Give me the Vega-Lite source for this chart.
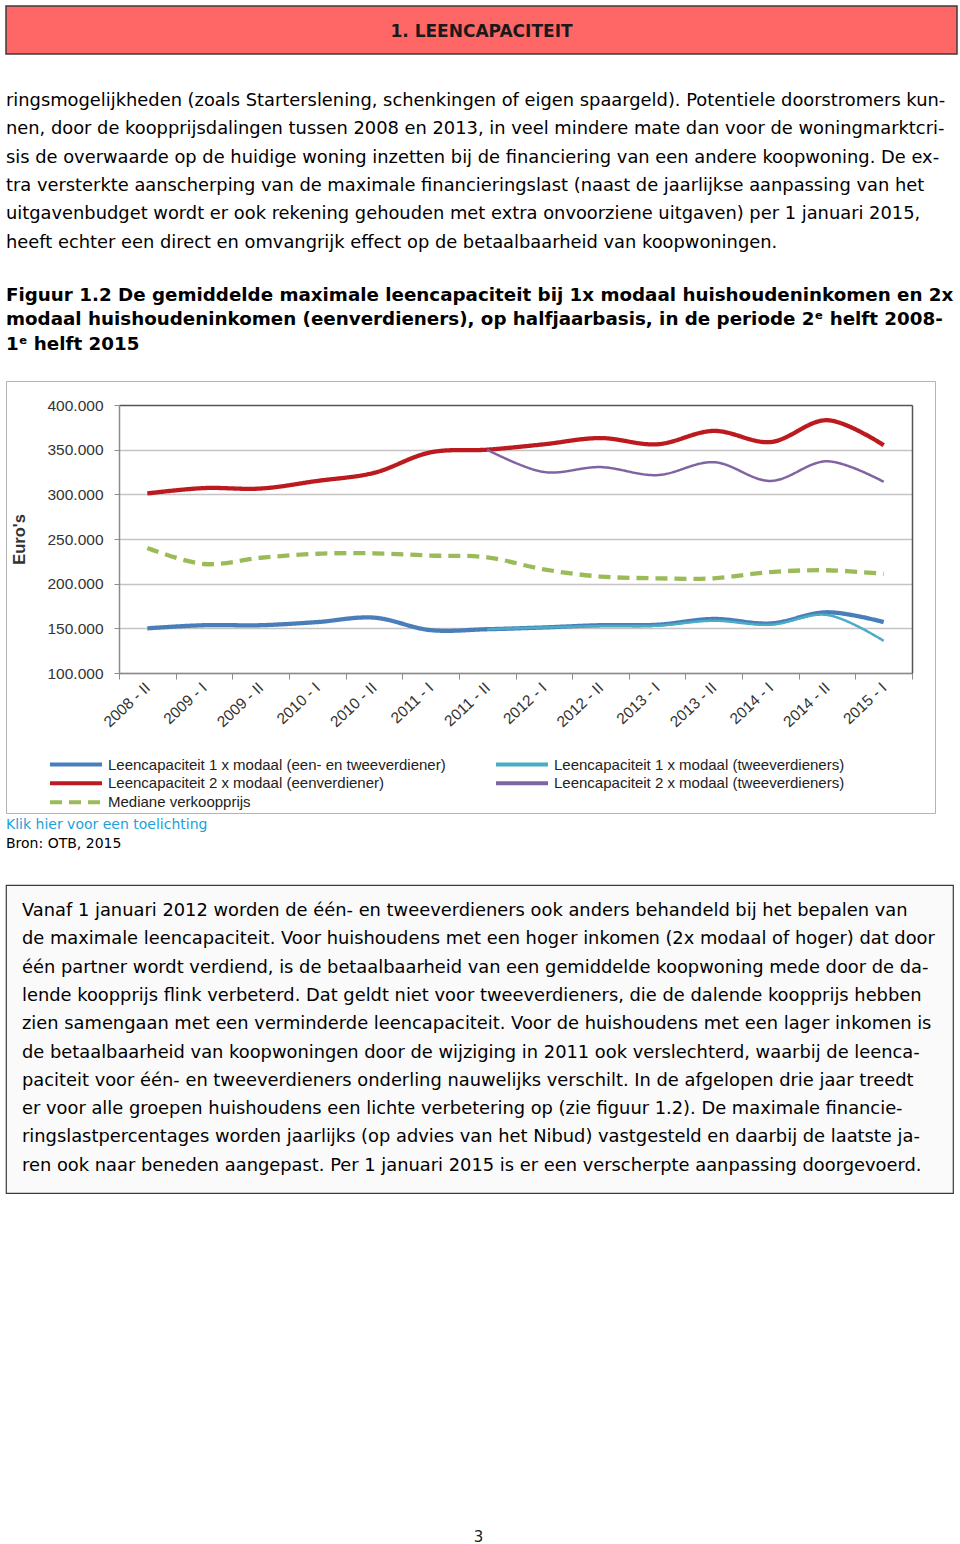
{
  "$schema": "https://vega.github.io/schema/vega-lite/v6.json",
  "background": "white",
  "padding": {"left": 0, "top": 5, "right": 0, "bottom": 0},
  "bounds": "flush",
  "spacing": 0,
  "config": {
    "view": {"stroke": null},
    "font": "DejaVu Sans",
    "legend": {"orient": "none", "legendX": 42, "legendY": 749}
  },
  "datasets": {
    "series": [
      {"period": "2008 - II", "series": "Leencapaciteit 1 x modaal (een- en tweeverdiener)", "value": 150000},
      {"period": "2009 - I", "series": "Leencapaciteit 1 x modaal (een- en tweeverdiener)", "value": 153500},
      {"period": "2009 - II", "series": "Leencapaciteit 1 x modaal (een- en tweeverdiener)", "value": 153500},
      {"period": "2010 - I", "series": "Leencapaciteit 1 x modaal (een- en tweeverdiener)", "value": 157000},
      {"period": "2010 - II", "series": "Leencapaciteit 1 x modaal (een- en tweeverdiener)", "value": 162000},
      {"period": "2011 - I", "series": "Leencapaciteit 1 x modaal (een- en tweeverdiener)", "value": 148000},
      {"period": "2011 - II", "series": "Leencapaciteit 1 x modaal (een- en tweeverdiener)", "value": 149000},
      {"period": "2012 - I", "series": "Leencapaciteit 1 x modaal (een- en tweeverdiener)", "value": 151000},
      {"period": "2012 - II", "series": "Leencapaciteit 1 x modaal (een- en tweeverdiener)", "value": 153500},
      {"period": "2013 - I", "series": "Leencapaciteit 1 x modaal (een- en tweeverdiener)", "value": 154000},
      {"period": "2013 - II", "series": "Leencapaciteit 1 x modaal (een- en tweeverdiener)", "value": 160500},
      {"period": "2014 - I", "series": "Leencapaciteit 1 x modaal (een- en tweeverdiener)", "value": 155500},
      {"period": "2014 - II", "series": "Leencapaciteit 1 x modaal (een- en tweeverdiener)", "value": 168000},
      {"period": "2015 - I", "series": "Leencapaciteit 1 x modaal (een- en tweeverdiener)", "value": 157000},
      {"period": "2011 - II", "series": "Leencapaciteit 1 x modaal (tweeverdieners)", "value": 149000},
      {"period": "2012 - I", "series": "Leencapaciteit 1 x modaal (tweeverdieners)", "value": 151000},
      {"period": "2012 - II", "series": "Leencapaciteit 1 x modaal (tweeverdieners)", "value": 152500},
      {"period": "2013 - I", "series": "Leencapaciteit 1 x modaal (tweeverdieners)", "value": 153000},
      {"period": "2013 - II", "series": "Leencapaciteit 1 x modaal (tweeverdieners)", "value": 158500},
      {"period": "2014 - I", "series": "Leencapaciteit 1 x modaal (tweeverdieners)", "value": 154000},
      {"period": "2014 - II", "series": "Leencapaciteit 1 x modaal (tweeverdieners)", "value": 165000},
      {"period": "2015 - I", "series": "Leencapaciteit 1 x modaal (tweeverdieners)", "value": 136000},
      {"period": "2008 - II", "series": "Leencapaciteit 2 x modaal (eenverdiener)", "value": 301000},
      {"period": "2009 - I", "series": "Leencapaciteit 2 x modaal (eenverdiener)", "value": 307000},
      {"period": "2009 - II", "series": "Leencapaciteit 2 x modaal (eenverdiener)", "value": 306500},
      {"period": "2010 - I", "series": "Leencapaciteit 2 x modaal (eenverdiener)", "value": 315000},
      {"period": "2010 - II", "series": "Leencapaciteit 2 x modaal (eenverdiener)", "value": 324000},
      {"period": "2011 - I", "series": "Leencapaciteit 2 x modaal (eenverdiener)", "value": 347000},
      {"period": "2011 - II", "series": "Leencapaciteit 2 x modaal (eenverdiener)", "value": 350000},
      {"period": "2012 - I", "series": "Leencapaciteit 2 x modaal (eenverdiener)", "value": 356000},
      {"period": "2012 - II", "series": "Leencapaciteit 2 x modaal (eenverdiener)", "value": 363000},
      {"period": "2013 - I", "series": "Leencapaciteit 2 x modaal (eenverdiener)", "value": 356000},
      {"period": "2013 - II", "series": "Leencapaciteit 2 x modaal (eenverdiener)", "value": 371000},
      {"period": "2014 - I", "series": "Leencapaciteit 2 x modaal (eenverdiener)", "value": 358500},
      {"period": "2014 - II", "series": "Leencapaciteit 2 x modaal (eenverdiener)", "value": 383000},
      {"period": "2015 - I", "series": "Leencapaciteit 2 x modaal (eenverdiener)", "value": 355000},
      {"period": "2011 - II", "series": "Leencapaciteit 2 x modaal (tweeverdieners)", "value": 350000},
      {"period": "2012 - I", "series": "Leencapaciteit 2 x modaal (tweeverdieners)", "value": 325000},
      {"period": "2012 - II", "series": "Leencapaciteit 2 x modaal (tweeverdieners)", "value": 330500},
      {"period": "2013 - I", "series": "Leencapaciteit 2 x modaal (tweeverdieners)", "value": 321500},
      {"period": "2013 - II", "series": "Leencapaciteit 2 x modaal (tweeverdieners)", "value": 336000},
      {"period": "2014 - I", "series": "Leencapaciteit 2 x modaal (tweeverdieners)", "value": 315000},
      {"period": "2014 - II", "series": "Leencapaciteit 2 x modaal (tweeverdieners)", "value": 337000},
      {"period": "2015 - I", "series": "Leencapaciteit 2 x modaal (tweeverdieners)", "value": 314000},
      {"period": "2008 - II", "series": "Mediane verkoopprijs", "value": 240000},
      {"period": "2009 - I", "series": "Mediane verkoopprijs", "value": 222000},
      {"period": "2009 - II", "series": "Mediane verkoopprijs", "value": 229000},
      {"period": "2010 - I", "series": "Mediane verkoopprijs", "value": 233500},
      {"period": "2010 - II", "series": "Mediane verkoopprijs", "value": 234000},
      {"period": "2011 - I", "series": "Mediane verkoopprijs", "value": 231500},
      {"period": "2011 - II", "series": "Mediane verkoopprijs", "value": 229500},
      {"period": "2012 - I", "series": "Mediane verkoopprijs", "value": 216000},
      {"period": "2012 - II", "series": "Mediane verkoopprijs", "value": 208000},
      {"period": "2013 - I", "series": "Mediane verkoopprijs", "value": 206000},
      {"period": "2013 - II", "series": "Mediane verkoopprijs", "value": 206000},
      {"period": "2014 - I", "series": "Mediane verkoopprijs", "value": 213000},
      {"period": "2014 - II", "series": "Mediane verkoopprijs", "value": 215000},
      {"period": "2015 - I", "series": "Mediane verkoopprijs", "value": 211000}
    ]
  },
  "vconcat": [
    {
      "width": 951,
      "height": 48,
      "view": {"fill": "#FF6666", "stroke": "#3c3c3c", "strokeWidth": 1.5},
      "data": {"values": [{"label": "1. LEENCAPACITEIT"}]},
      "mark": {"type": "text", "font": "DejaVu Sans", "fontWeight": "bold", "fontSize": 17, "color": "#1a1a1a", "align": "center", "baseline": "middle", "dy": 2},
      "encoding": {"text": {"field": "label"}}
    },
    {
      "width": 949,
      "height": 327,
      "data": {"values": []},
      "mark": "text"
    },
    {
      "width": 929,
      "height": 432,
      "view": {"fill": "white", "stroke": "#b3b3b3", "strokeWidth": 1},
      "title": {
        "text": [
          "ringsmogelijkheden (zoals Starterslening, schenkingen of eigen spaargeld). Potentiele doorstromers kun-",
          "nen, door de koopprijsdalingen tussen 2008 en 2013, in veel mindere mate dan voor de woningmarktcri-",
          "sis de overwaarde op de huidige woning inzetten bij de financiering van een andere koopwoning. De ex-",
          "tra versterkte aanscherping van de maximale financieringslast (naast de jaarlijkse aanpassing van het",
          "uitgavenbudget wordt er ook rekening gehouden met extra onvoorziene uitgaven) per 1 januari 2015,",
          "heeft echter een direct en omvangrijk effect op de betaalbaarheid van koopwoningen."
        ],
        "subtitle": [
          "Figuur 1.2 De gemiddelde maximale leencapaciteit bij 1x modaal huishoudeninkomen en 2x",
          "modaal huishoudeninkomen (eenverdieners), op halfjaarbasis, in de periode 2ᵉ helft 2008-",
          "1ᵉ helft 2015"
        ],
        "anchor": "start",
        "frame": "group",
        "orient": "top",
        "offset": 28,
        "dx": 0,
        "font": "DejaVu Sans",
        "fontSize": 17.85,
        "fontWeight": "normal",
        "color": "#000000",
        "lineHeight": 28.4,
        "subtitleFont": "DejaVu Sans",
        "subtitleFontSize": 18.3,
        "subtitleFontWeight": "bold",
        "subtitleColor": "#000000",
        "subtitleLineHeight": 24.5,
        "subtitlePadding": 35
      },
      "data": {"name": "series"},
      "encoding": {
        "x": {
          "field": "period",
          "type": "ordinal",
          "sort": ["2008 - II", "2009 - I", "2009 - II", "2010 - I", "2010 - II", "2011 - I", "2011 - II", "2012 - I", "2012 - II", "2013 - I", "2013 - II", "2014 - I", "2014 - II", "2015 - I"],
          "bandPosition": 0.5,
          "scale": {"type": "band", "range": [113, 906], "paddingInner": 0, "paddingOuter": 0},
          "axis": {
            "orient": "bottom",
            "offset": -140,
            "tickBand": "extent",
            "labelAngle": -43,
            "labelAlign": "right",
            "labelBaseline": "middle",
            "labelFont": "Liberation Sans",
            "labelFontSize": 15.5,
            "labelColor": "#333333",
            "labelPadding": 6,
            "tickSize": 6,
            "tickColor": "#8c8c8c",
            "domainColor": "#8c8c8c",
            "domainWidth": 1.5,
            "grid": false,
            "title": null
          }
        },
        "color": {
          "field": "series",
          "type": "nominal",
          "scale": {
            "domain": ["Leencapaciteit 1 x modaal (een- en tweeverdiener)", "Leencapaciteit 2 x modaal (eenverdiener)", "Mediane verkoopprijs", "Leencapaciteit 1 x modaal (tweeverdieners)", "Leencapaciteit 2 x modaal (tweeverdieners)"],
            "range": ["#4A7EBB", "#BC1A1F", "#9BBB59", "#4BACC6", "#8064A2"]
          },
          "legend": {
            "title": null,
            "orient": "none",
            "legendX": 42,
            "legendY": 749,
            "columns": 2,
            "columnPadding": 48,
            "padding": 0,
            "symbolType": "stroke",
            "symbolSize": 2700,
            "symbolStrokeWidth": 4,
            "labelFont": "Liberation Sans",
            "labelFontSize": 15,
            "labelColor": "#222222",
            "labelOffset": 4,
            "labelLimit": 600,
            "rowPadding": 0,
            "clipHeight": 18.4
          }
        },
        "strokeDash": {
          "field": "series",
          "type": "nominal",
          "scale": {
            "domain": ["Leencapaciteit 1 x modaal (een- en tweeverdiener)", "Leencapaciteit 2 x modaal (eenverdiener)", "Mediane verkoopprijs", "Leencapaciteit 1 x modaal (tweeverdieners)", "Leencapaciteit 2 x modaal (tweeverdieners)"],
            "range": [[1, 0], [1, 0], [12, 7], [1, 0], [1, 0]]
          },
          "legend": {
            "title": null,
            "orient": "none",
            "legendX": 42,
            "legendY": 749,
            "columns": 2,
            "columnPadding": 48,
            "padding": 0,
            "symbolType": "stroke",
            "symbolSize": 2700,
            "symbolStrokeWidth": 4,
            "labelFont": "Liberation Sans",
            "labelFontSize": 15,
            "labelColor": "#222222",
            "labelOffset": 4,
            "labelLimit": 600,
            "rowPadding": 0,
            "clipHeight": 18.4
          }
        }
      },
      "layer": [
        {
          "transform": [{"filter": {"field": "series", "oneOf": ["Leencapaciteit 1 x modaal (een- en tweeverdiener)", "Leencapaciteit 2 x modaal (eenverdiener)", "Mediane verkoopprijs"]}}],
          "mark": {"type": "line", "interpolate": "catmull-rom", "strokeWidth": 4.3, "strokeCap": "butt"},
          "encoding": {
            "y": {
              "field": "value",
              "type": "quantitative",
              "scale": {"domain": [100000, 400000], "range": [292, 24], "nice": false, "zero": false},
              "axis": {
                "orient": "left",
                "offset": -113,
                "values": [100000, 150000, 200000, 250000, 300000, 350000, 400000],
                "labelExpr": "replace(format(datum.value, ','), ',', '.')",
                "labelFont": "Liberation Sans",
                "labelFontSize": 15.5,
                "labelColor": "#333333",
                "labelPadding": 11,
                "tickSize": 5,
                "tickColor": "#8c8c8c",
                "domainColor": "#8c8c8c",
                "domainWidth": 1.5,
                "grid": true,
                "gridColor": {"condition": {"test": "datum.value === 400000", "value": "#555555"}, "value": "#c4c4c4"},
                "gridWidth": 1.3,
                "title": "Euro's",
                "titleFont": "Liberation Sans",
                "titleFontSize": 16.5,
                "titleFontWeight": "bold",
                "titleColor": "#333333",
                "titlePadding": 19
              }
            }
          }
        },
        {
          "transform": [{"filter": {"field": "series", "oneOf": ["Leencapaciteit 1 x modaal (tweeverdieners)", "Leencapaciteit 2 x modaal (tweeverdieners)"]}}],
          "mark": {"type": "line", "interpolate": "catmull-rom", "strokeWidth": 2.5},
          "encoding": {
            "y": {
              "field": "value",
              "type": "quantitative",
              "axis": {
                "orient": "right",
                "offset": -23,
                "labels": false,
                "ticks": false,
                "grid": false,
                "domainColor": "#555555",
                "domainWidth": 1.5,
                "title": null
              }
            }
          }
        }
      ],
      "resolve": {"axis": {"y": "independent"}}
    },
    {
      "width": 949,
      "height": 72,
      "data": {"values": []},
      "mark": "text"
    },
    {
      "width": 947,
      "height": 308,
      "view": {"fill": "#FAFAFA", "stroke": "#3a3a3a", "strokeWidth": 1.2},
      "title": {
        "text": "Klik hier voor een toelichting",
        "subtitle": "Bron: OTB, 2015",
        "anchor": "start",
        "frame": "group",
        "orient": "top",
        "offset": 34,
        "dx": 0,
        "font": "DejaVu Sans",
        "fontSize": 14,
        "fontWeight": "normal",
        "color": "#1BA1DB",
        "subtitleFont": "DejaVu Sans",
        "subtitleFontSize": 14,
        "subtitleColor": "#000000",
        "subtitlePadding": 5
      },
      "data": {"values": [{"body": "Vanaf 1 januari 2012 worden de één- en tweeverdieners ook anders behandeld bij het bepalen van\nde maximale leencapaciteit. Voor huishoudens met een hoger inkomen (2x modaal of hoger) dat door\néén partner wordt verdiend, is de betaalbaarheid van een gemiddelde koopwoning mede door de da-\nlende koopprijs flink verbeterd. Dat geldt niet voor tweeverdieners, die de dalende koopprijs hebben\nzien samengaan met een verminderde leencapaciteit. Voor de huishoudens met een lager inkomen is\nde betaalbaarheid van koopwoningen door de wijziging in 2011 ook verslechterd, waarbij de leenca-\npaciteit voor één- en tweeverdieners onderling nauwelijks verschilt. In de afgelopen drie jaar treedt\ner voor alle groepen huishoudens een lichte verbetering op (zie figuur 1.2). De maximale financie-\nringslastpercentages worden jaarlijks (op advies van het Nibud) vastgesteld en daarbij de laatste ja-\nren ook naar beneden aangepast. Per 1 januari 2015 is er een verscherpte aanpassing doorgevoerd."}]},
      "mark": {"type": "text", "align": "left", "baseline": "middle", "lineBreak": "\n", "lineHeight": 28.3, "font": "DejaVu Sans", "fontSize": 17.85, "color": "#000000", "dx": -457.5, "dy": -128},
      "encoding": {"text": {"field": "body"}}
    },
    {
      "width": 949,
      "height": 336,
      "data": {"values": []},
      "mark": "text"
    },
    {
      "width": 949,
      "height": 16,
      "data": {"values": [{"page": "3"}]},
      "mark": {"type": "text", "font": "DejaVu Sans", "fontSize": 15, "color": "#222222", "align": "center", "baseline": "middle", "dx": -2},
      "encoding": {"text": {"field": "page"}}
    }
  ]
}
